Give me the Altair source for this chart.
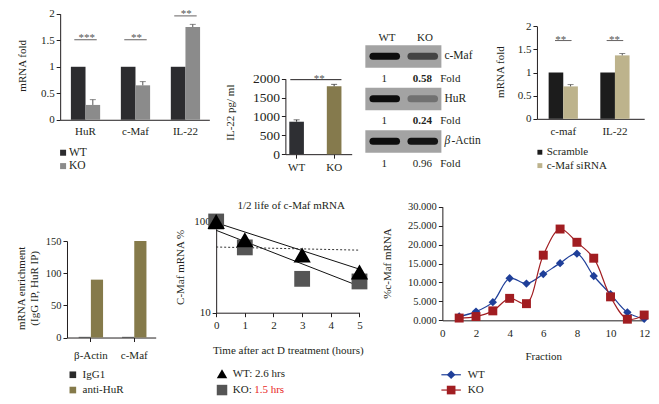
import altair as alt
import pandas as pd

# ---------------- values ----------------
a_genes = ["HuR", "c-Maf", "IL-22"]
a_groups = ["WT", "KO"]
a_wt = [1.0, 1.0, 1.0]
a_ko = [0.28, 0.65, 1.75]
a_ko_err = [0.10, 0.07, 0.05]
a_sig_y = [1.51, 1.51, 1.96]
a_sig = ["***", "**", "**"]

b_groups = ["WT", "KO"]
b_vals = [860, 1800]
b_err = [50, 50]
b_sig_y = [1975]
b_sig = ["**"]

blot_proteins = ["c-Maf", "HuR", "β-Actin"]
blot_lanes = ["WT", "KO"]
blot_wt_fold = [1, 1, 1]
blot_ko_fold = [0.58, 0.24, 0.96]
blot_ko_bold = [True, True, False]

d_genes = ["c-maf", "IL-22"]
d_groups = ["Scramble", "c-Maf siRNA"]
d_scramble = [1.0, 1.0]
d_sirna = [0.70, 1.37]
d_sirna_err = [0.04, 0.04]
d_sig_y = [1.69, 1.69]
d_sig = ["**", "**"]

e_genes = ["β-Actin", "c-Maf"]
e_groups = ["IgG1", "anti-HuR"]
e_igg = [1, 1]
e_anti = [90, 150]

f_title = "1/2 life of c-Maf mRNA"
f_time = [0, 1, 3, 5]
f_wt = [100, 63, 43, 28]
f_ko = [100, 52, 23.5, 22]
f_fit_time = [0, 5]
f_fit_wt = [97, 30]
f_fit_ko = [80, 19.5]
f_half_line = [52.5, 48.5]
f_keys = ["WT", "KO"]
f_legend = ["WT: 2.6 hrs", "KO:"]
f_ko_half = "1.5 hrs"

g_fraction = list(range(1, 13))
g_wt = [1.0, 2.3, 4.8, 11.1, 9.7, 12.2, 15.1, 17.6, 11.7, 6.9, 2.1, 0.4]
g_ko = [0.6, 1.0, 2.5, 5.8, 4.4, 17.2, 24.1, 20.6, 16.4, 6.2, 0.3, 1.4]
g_series = ["WT", "KO"]

# ---------------- layout helpers ----------------
W, H = 643, 388
SX, SY = 0.975, 0.955
FONT = "Liberation Serif"
INK = "#231f20"
FS = 11


def X(r):
    return (r - 0.5) * SX


def Y(r):
    return r * SY + 1


def band_scale(domain, start, end, first, bw, step):
    n = len(domain)
    p = 1 - bw / step
    po = ((end - start) / step - n + p) / 2
    used = step * (n - p)
    align = (first - start) / (end - start - used)
    return alt.Scale(domain=domain, range=[X(start), X(end)], paddingInner=p,
                     paddingOuter=po, align=align)


def lin(domain, a, b, axis="y", **kw):
    rng = [Y(a), Y(b)] if axis == "y" else [X(a), X(b)]
    return alt.Scale(domain=domain, range=rng, nice=False, zero=False, **kw)


def left_axis(px, values, title, title_x, title_y, fmt="~g", tick=4, label_size=FS, **kw):
    return alt.Axis(orient="left", offset=-X(px), values=values, format=fmt, title=title,
                    tickSize=tick, labelPadding=2, grid=False, labelFontSize=label_size,
                    titleFontWeight="normal", titleX=X(title_x) - X(px), titleY=Y(title_y),
                    titleBaseline="middle", titleAlign="center", titleAngle=270, **kw)


def bottom_axis(py, title=None, ticks=True, label_pad=3, title_pad=8, values=None, fmt=None):
    kw = {}
    if values is not None:
        kw["values"] = values
    if fmt is not None:
        kw["format"] = fmt
    kw["title"] = title
    return alt.Axis(orient="bottom", offset=Y(py) - H, ticks=ticks, tickSize=4 if ticks else 0,
                    labelPadding=label_pad, titlePadding=title_pad, labelAngle=0, grid=False,
                    labelFlush=False, labelOverlap=False, titleFontWeight="normal", **kw)


def square_legend(labels, colors, x_sym, x_text, y1, y2, size, fs=FS):
    df = pd.DataFrame({"label": labels})
    ys = alt.Scale(type="point", domain=labels, range=[Y(y1), Y(y2)], padding=0)
    cs = alt.Scale(domain=labels, range=colors)
    sym = alt.Chart(df).mark_square(size=size, opacity=1).encode(
        x=alt.value(X(x_sym)), y=alt.Y("label:N", scale=ys, axis=None),
        color=alt.Color("label:N", scale=cs, legend=None))
    txt = alt.Chart(df).mark_text(align="left", baseline="middle", fontSize=fs, color=INK).encode(
        x=alt.value(X(x_text)), y=alt.Y("label:N", scale=ys, axis=None), text="label:N")
    return [sym, txt]


layers = []

# ---------------- Panel A: mRNA fold WT vs KO ----------------
a_df = pd.DataFrame({"gene": a_genes * 2, "group": ["WT"] * 3 + ["KO"] * 3, "value": a_wt + a_ko})
a_err_df = pd.DataFrame({"gene": a_genes, "group": ["KO"] * 3, "value": a_ko, "err": a_ko_err})
a_sig_df = pd.DataFrame({"gene": a_genes, "y": a_sig_y, "label": a_sig})
a_x = band_scale(a_genes, 54, 207, 65, 30, 51.25)
a_off = alt.Scale(domain=a_groups, paddingInner=0, paddingOuter=0)
a_y = lin([0, 2], 116, 5)
a_col = alt.Scale(domain=a_groups, range=["#2c2c2f", "#8b8b8b"])

layers.append(alt.Chart(a_df).mark_bar().encode(
    x=alt.X("gene:N", scale=a_x, axis=bottom_axis(116, ticks=False, label_pad=6)),
    xOffset=alt.XOffset("group:N", scale=a_off),
    y=alt.Y("value:Q", scale=a_y, axis=left_axis(54, [0, 0.5, 1, 1.5, 2], "mRNA fold", 15, 59)),
    color=alt.Color("group:N", scale=a_col, legend=None)))
layers.append(alt.Chart(a_err_df).transform_calculate(hi="datum.value + datum.err").mark_rule(
    color="#555555").encode(
    x=alt.X("gene:N", scale=a_x, axis=None), xOffset=alt.XOffset("group:N", scale=a_off),
    y=alt.Y("value:Q", scale=a_y, axis=None), y2="hi:Q"))
layers.append(alt.Chart(a_err_df).transform_calculate(hi="datum.value + datum.err").mark_tick(
    size=6, thickness=1, color="#555555").encode(
    x=alt.X("gene:N", scale=a_x, axis=None), xOffset=alt.XOffset("group:N", scale=a_off),
    y=alt.Y("hi:Q", scale=a_y, axis=None)))
layers.append(alt.Chart(a_sig_df).mark_tick(size=23 * SX, thickness=1, color=INK).encode(
    x=alt.X("gene:N", scale=a_x, axis=None), y=alt.Y("y:Q", scale=a_y, axis=None)))
layers.append(alt.Chart(a_sig_df).mark_text(baseline="alphabetic", dy=1, fontSize=FS, color="#555555").encode(
    x=alt.X("gene:N", scale=a_x, axis=None), y=alt.Y("y:Q", scale=a_y, axis=None), text="label:N"))
layers += square_legend(a_groups, ["#2c2c2f", "#8b8b8b"], 57, 63, 150.5, 164.5, 36, fs=11.5)

# ---------------- Panel B: IL-22 pg/ml ----------------
b_df = pd.DataFrame({"group": b_groups, "value": b_vals, "err": b_err})
b_sig_df = pd.DataFrame({"a": ["WT"], "b": ["KO"], "y": b_sig_y, "label": b_sig})
b_x = band_scale(b_groups, 285, 353, 289, 15, 38.5)
b_y = lin([0, 2000], 152, 73)
b_col = alt.Scale(domain=b_groups, range=["#2e2f33", "#857a4d"])
layers.append(alt.Chart(b_df).mark_bar().encode(
    x=alt.X("group:N", scale=b_x, axis=bottom_axis(152, ticks=True, label_pad=3)),
    y=alt.Y("value:Q", scale=b_y, axis=left_axis(285, [0, 500, 1000, 1500, 2000], "IL-22 pg/ ml",
                                                 229, 108, fmt="d", label_size=13.5)),
    color=alt.Color("group:N", scale=b_col, legend=None)))
layers.append(alt.Chart(b_df).transform_calculate(hi="datum.value + datum.err").mark_rule(
    color="#333333").encode(
    x=alt.X("group:N", scale=b_x, axis=None), y=alt.Y("value:Q", scale=b_y, axis=None), y2="hi:Q"))
layers.append(alt.Chart(b_df).transform_calculate(hi="datum.value + datum.err").mark_tick(
    size=6, thickness=1, color="#333333").encode(
    x=alt.X("group:N", scale=b_x, axis=None), y=alt.Y("hi:Q", scale=b_y, axis=None)))
layers.append(alt.Chart(b_sig_df).mark_rule(color=INK).encode(
    x=alt.X("a:N", scale=b_x, bandPosition=0.07, axis=None),
    x2=alt.X2("b:N", bandPosition=1.0),
    y=alt.Y("y:Q", scale=b_y, axis=None)))
layers.append(alt.Chart(b_sig_df).mark_text(baseline="alphabetic", dy=2, dx=-8.6 * SX, fontSize=FS,
                                            color="#555555").encode(
    x=alt.X("b:N", scale=b_x, bandPosition=0.0, axis=None),
    y=alt.Y("y:Q", scale=b_y, axis=None), text="label:N"))

# ---------------- Western blot ----------------
blot_x = alt.Scale(domain=[0, 2], range=[X(367), X(445)], nice=False, zero=False)
blot_y = alt.Scale(domain=[0, 2], range=[Y(49.5), Y(138.5)], nice=False, zero=False)
blot_rows = pd.DataFrame({"protein": blot_proteins, "row": [0, 1, 2]})
layers.append(alt.Chart(blot_rows).transform_calculate(
    x0="0", x1="2", y0="datum.row - 0.26", y1="datum.row + 0.27").mark_rect(color="#a3a3a3").encode(
    x=alt.X("x0:Q", scale=blot_x, axis=None), x2="x1:Q",
    y=alt.Y("y0:Q", scale=blot_y, axis=None), y2="y1:Q"))
band_df = pd.DataFrame({
    "row": [0, 1, 2] * 2,
    "lane": [0] * 3 + [1] * 3,
    "fold": blot_wt_fold + blot_ko_fold,
})
layers.append(alt.Chart(band_df).transform_calculate(
    bs="datum.lane + 0.2", be="datum.lane + 0.82", op="0.12 + 0.88 * datum.fold").mark_rule(
    color="#0d0d0d", strokeCap="round", strokeWidth=7).encode(
    x=alt.X("bs:Q", scale=blot_x, axis=None), x2="be:Q",
    y=alt.Y("row:Q", scale=blot_y, axis=None),
    opacity=alt.Opacity("op:Q", scale=None)))
fold_df = pd.DataFrame({
    "row": [0, 1, 2] * 2,
    "lane": [0] * 3 + [1] * 3,
    "fold": blot_wt_fold + blot_ko_fold,
    "bold": [False] * 3 + blot_ko_bold,
})
for bold in (False, True):
    layers.append(alt.Chart(fold_df).transform_filter(
        "datum.bold" if bold else "!datum.bold").transform_calculate(
        xc="datum.lane + 0.5", yc="datum.row + 0.53",
        label="datum.fold == 1 ? '1' : format(datum.fold, '.2f')").mark_text(
        baseline="middle", fontSize=FS, color=INK,
        fontWeight="bold" if bold else "normal").encode(
        x=alt.X("xc:Q", scale=blot_x, axis=None), y=alt.Y("yc:Q", scale=blot_y, axis=None),
        text="label:N"))
layers.append(alt.Chart(blot_rows).transform_calculate(
    xc="1.97", yc="datum.row + 0.53", word="'Fold'").mark_text(
    align="left", baseline="middle", fontSize=FS, color=INK).encode(
    x=alt.X("xc:Q", scale=blot_x, axis=None), y=alt.Y("yc:Q", scale=blot_y, axis=None),
    text="word:N"))
hdr = pd.DataFrame({"lane": blot_lanes, "idx": [0, 1]})
layers.append(alt.Chart(hdr).transform_calculate(xc="datum.idx + 0.57", yc="-0.44").mark_text(
    baseline="middle", fontSize=FS, color=INK).encode(
    x=alt.X("xc:Q", scale=blot_x, axis=None), y=alt.Y("yc:Q", scale=blot_y, axis=None),
    text="lane:N"))
layers.append(alt.Chart(blot_rows).transform_filter("datum.protein != 'β-Actin'").transform_calculate(
    xc="2.08").mark_text(align="left", baseline="middle", fontSize=FS + 0.5, color=INK).encode(
    x=alt.X("xc:Q", scale=blot_x, axis=None), y=alt.Y("row:Q", scale=blot_y, axis=None),
    text="protein:N"))
beta = pd.DataFrame({"row": [2], "g": ["β"], "rest": ["-Actin"]})
layers.append(alt.Chart(beta).transform_calculate(xc="2.08").mark_text(
    align="left", baseline="middle", fontSize=FS + 0.5, fontStyle="italic", color=INK).encode(
    x=alt.X("xc:Q", scale=blot_x, axis=None), y=alt.Y("row:Q", scale=blot_y, axis=None),
    text="g:N"))
layers.append(alt.Chart(beta).transform_calculate(xc="2.08").mark_text(
    align="left", baseline="middle", dx=7, fontSize=FS + 0.5, color=INK).encode(
    x=alt.X("xc:Q", scale=blot_x, axis=None), y=alt.Y("row:Q", scale=blot_y, axis=None),
    text="rest:N"))

# ---------------- Panel D: siRNA ----------------
d_df = pd.DataFrame({"gene": d_genes * 2, "group": [d_groups[0]] * 2 + [d_groups[1]] * 2,
                     "value": d_scramble + d_sirna})
d_err_df = pd.DataFrame({"gene": d_genes, "group": [d_groups[1]] * 2, "value": d_sirna, "err": d_sirna_err})
d_sig_df = pd.DataFrame({"gene": d_genes, "y": d_sig_y, "label": d_sig})
d_x = band_scale(d_genes, 543, 653, 555, 30, 53)
d_off = alt.Scale(domain=d_groups, paddingInner=0, paddingOuter=0)
d_y = lin([0, 2], 115, 18)
d_colors = ["#1c1c1c", "#bdb38c"]
d_col = alt.Scale(domain=d_groups, range=d_colors)
layers.append(alt.Chart(d_df).mark_bar().encode(
    x=alt.X("gene:N", scale=d_x, axis=bottom_axis(115, ticks=False, label_pad=7)),
    xOffset=alt.XOffset("group:N", scale=d_off),
    y=alt.Y("value:Q", scale=d_y, axis=left_axis(543, [0, 0.5, 1, 1.5, 2], "mRNA fold", 506, 65.5)),
    color=alt.Color("group:N", scale=d_col, legend=None)))
layers.append(alt.Chart(d_err_df).transform_calculate(hi="datum.value + datum.err").mark_rule(
    color="#555555").encode(
    x=alt.X("gene:N", scale=d_x, axis=None), xOffset=alt.XOffset("group:N", scale=d_off),
    y=alt.Y("value:Q", scale=d_y, axis=None), y2="hi:Q"))
layers.append(alt.Chart(d_err_df).transform_calculate(hi="datum.value + datum.err").mark_tick(
    size=6, thickness=1, color="#555555").encode(
    x=alt.X("gene:N", scale=d_x, axis=None), xOffset=alt.XOffset("group:N", scale=d_off),
    y=alt.Y("hi:Q", scale=d_y, axis=None)))
layers.append(alt.Chart(d_sig_df).mark_tick(size=17 * SX, thickness=1, color=INK).encode(
    x=alt.X("gene:N", scale=d_x, axis=None), y=alt.Y("y:Q", scale=d_y, axis=None)))
layers.append(alt.Chart(d_sig_df).mark_text(baseline="alphabetic", dy=2, fontSize=FS, color="#555555").encode(
    x=alt.X("gene:N", scale=d_x, axis=None), y=alt.Y("y:Q", scale=d_y, axis=None), text="label:N"))
layers += square_legend(d_groups, d_colors, 546, 553, 150, 164, 24)

# ---------------- Panel E: RIP enrichment ----------------
e_df = pd.DataFrame({"gene": e_genes * 2, "group": [e_groups[0]] * 2 + [e_groups[1]] * 2,
                     "value": e_igg + e_anti})
e_x = band_scale(e_genes, 61, 152, 73, 25, 44.5)
e_off = alt.Scale(domain=e_groups, paddingInner=0, paddingOuter=0)
e_y = lin([0, 150], 344, 243)
e_colors = ["#2a2a2a", "#857a4a"]
e_col = alt.Scale(domain=e_groups, range=e_colors)
layers.append(alt.Chart(e_df).mark_bar().encode(
    x=alt.X("gene:N", scale=e_x, axis=bottom_axis(344, ticks=True, label_pad=8)),
    xOffset=alt.XOffset("group:N", scale=e_off),
    y=alt.Y("value:Q", scale=e_y, axis=left_axis(61, [0, 50, 100, 150],
                                                 ["mRNA enrichment", "(IgG IP, HuR IP)"], 14.5, 292,
                                                 fmt="d", label_size=10.5, titleLineHeight=13)),
    color=alt.Color("group:N", scale=e_col, legend=None)))
layers += square_legend(e_groups, e_colors, 67, 77, 383, 399, 44)

# ---------------- Panel F: half-life ----------------
f_x = lin([0, 5], 214, 361, axis="x")
f_y = alt.Scale(type="log", domain=[10, 100], range=[Y(318), Y(222.5)], nice=False)
f_pts = pd.DataFrame({"t": f_time * 2, "v": f_wt + f_ko, "s": ["WT"] * 4 + ["KO"] * 4})
f_fit = pd.DataFrame({"t": f_fit_time * 2, "v": f_fit_wt + f_fit_ko, "s": ["WT"] * 2 + ["KO"] * 2})
f_half = pd.DataFrame({"t": f_fit_time, "v": f_half_line})
layers.append(alt.Chart(f_half).mark_line(color="#333333", strokeDash=[2, 2], strokeWidth=1).encode(
    x=alt.X("t:Q", scale=f_x, axis=bottom_axis(318, title="Time after act D treatment (hours)",
                                               ticks=True, label_pad=3, title_pad=14,
                                               values=[0, 1, 2, 3, 4, 5], fmt="d")),
    y=alt.Y("v:Q", scale=f_y, axis=left_axis(214, [10, 100], "C-Maf mRNA %", 177, 270, fmt="d"))))
layers.append(alt.Chart(f_fit).mark_line(color="#111111", strokeWidth=1).encode(
    x=alt.X("t:Q", scale=f_x, axis=None), y=alt.Y("v:Q", scale=f_y, axis=None), detail="s:N"))
layers.append(alt.Chart(f_pts).transform_filter("datum.s == 'KO'").mark_square(
    size=250, color="#555555", opacity=1).encode(
    x=alt.X("t:Q", scale=f_x, axis=None), y=alt.Y("v:Q", scale=f_y, axis=None)))
layers.append(alt.Chart(f_pts).transform_filter("datum.s == 'WT'").mark_point(
    shape="triangle-up", filled=True, size=300, color="#000000", opacity=1).encode(
    x=alt.X("t:Q", scale=f_x, axis=None), y=alt.Y("v:Q", scale=f_y, axis=None)))
layers.append(alt.Chart(pd.DataFrame({"t": [f_title]})).mark_text(
    fontSize=FS, color=INK, baseline="middle").encode(
    x=alt.value(X(291)), y=alt.value(Y(206)), text="t:N"))
f_leg = pd.DataFrame({"k": f_keys, "label": f_legend})
f_ly = alt.Scale(type="point", domain=f_keys, range=[Y(382), Y(399)], padding=0)
layers.append(alt.Chart(f_leg).mark_point(filled=True, size=110, opacity=1).encode(
    x=alt.value(X(220)), y=alt.Y("k:N", scale=f_ly, axis=None),
    shape=alt.Shape("k:N", scale=alt.Scale(domain=f_keys, range=["triangle-up", "square"]), legend=None),
    color=alt.Color("k:N", scale=alt.Scale(domain=f_keys, range=["#000000", "#555555"]), legend=None)))
layers.append(alt.Chart(f_leg).mark_text(align="left", baseline="middle", fontSize=FS, color=INK).encode(
    x=alt.value(X(231)), y=alt.Y("k:N", scale=f_ly, axis=None), text="label:N"))
layers.append(alt.Chart(pd.DataFrame({"k": ["KO"], "t": [f_ko_half]})).mark_text(
    align="left", baseline="middle", fontSize=FS, color="#e8261e").encode(
    x=alt.value(X(253)), y=alt.Y("k:N", scale=f_ly, axis=None), text="t:N"))

# ---------------- Panel G: polysome fractions ----------------
g_x = lin([0, 12], 446, 653, axis="x")
g_y = lin([0, 30], 326, 207)
g_colors = ["#1f3f99", "#a11d21"]
g_df = pd.DataFrame({"f": g_fraction * 2, "v": g_wt + g_ko, "s": ["WT"] * 12 + ["KO"] * 12})
g_col = alt.Scale(domain=g_series, range=g_colors)
layers.append(alt.Chart(g_df).mark_line(interpolate="catmull-rom", strokeWidth=1.2).encode(
    x=alt.X("f:Q", scale=g_x, axis=bottom_axis(326, title="Fraction", ticks=False, label_pad=7,
                                               title_pad=12, values=list(range(0, 13, 2)), fmt="d")),
    y=alt.Y("v:Q", scale=g_y, axis=left_axis(446, [0, 5, 10, 15, 20, 25, 30], "%c-Maf mRNA",
                                             390, 266, fmt=".3f", label_size=10.5)),
    color=alt.Color("s:N", scale=g_col, legend=None)))
layers.append(alt.Chart(g_df).transform_filter("datum.s == 'WT'").mark_point(
    shape="diamond", filled=True, size=70, color=g_colors[0], opacity=1).encode(
    x=alt.X("f:Q", scale=g_x, axis=None), y=alt.Y("v:Q", scale=g_y, axis=None)))
layers.append(alt.Chart(g_df).transform_filter("datum.s == 'KO'").mark_square(
    size=80, color=g_colors[1], opacity=1).encode(
    x=alt.X("f:Q", scale=g_x, axis=None), y=alt.Y("v:Q", scale=g_y, axis=None)))
g_leg = pd.DataFrame({"s": g_series})
g_ly = alt.Scale(type="point", domain=g_series, range=[Y(383), Y(399)], padding=0)
layers.append(alt.Chart(g_leg).mark_rule(strokeWidth=1.2).encode(
    x=alt.value(X(445)), x2=alt.value(X(465)), y=alt.Y("s:N", scale=g_ly, axis=None),
    color=alt.Color("s:N", scale=g_col, legend=None)))
layers.append(alt.Chart(g_leg).mark_point(filled=True, size=75, opacity=1).encode(
    x=alt.value(X(455)), y=alt.Y("s:N", scale=g_ly, axis=None),
    shape=alt.Shape("s:N", scale=alt.Scale(domain=g_series, range=["diamond", "square"]), legend=None),
    color=alt.Color("s:N", scale=g_col, legend=None)))
layers.append(alt.Chart(g_leg).mark_text(align="left", baseline="middle", fontSize=FS, color=INK).encode(
    x=alt.value(X(472)), y=alt.Y("s:N", scale=g_ly, axis=None), text="s:N"))

chart = alt.layer(*layers).resolve_scale(
    x="independent", y="independent", color="independent", xOffset="independent",
    shape="independent", opacity="independent", size="independent"
).resolve_axis(x="independent", y="independent").properties(
    width=W, height=H, autosize=alt.AutoSizeParams(type="none"), padding=0
).configure(font=FONT).configure_view(stroke=None).configure_axis(
    labelFont=FONT, titleFont=FONT, labelFontSize=FS, titleFontSize=FS, titleFontWeight="normal",
    labelColor=INK, titleColor=INK, domainColor=INK, tickColor=INK, grid=False
)

chart.save("out.html", embed_options={"renderer": "svg", "actions": False})
